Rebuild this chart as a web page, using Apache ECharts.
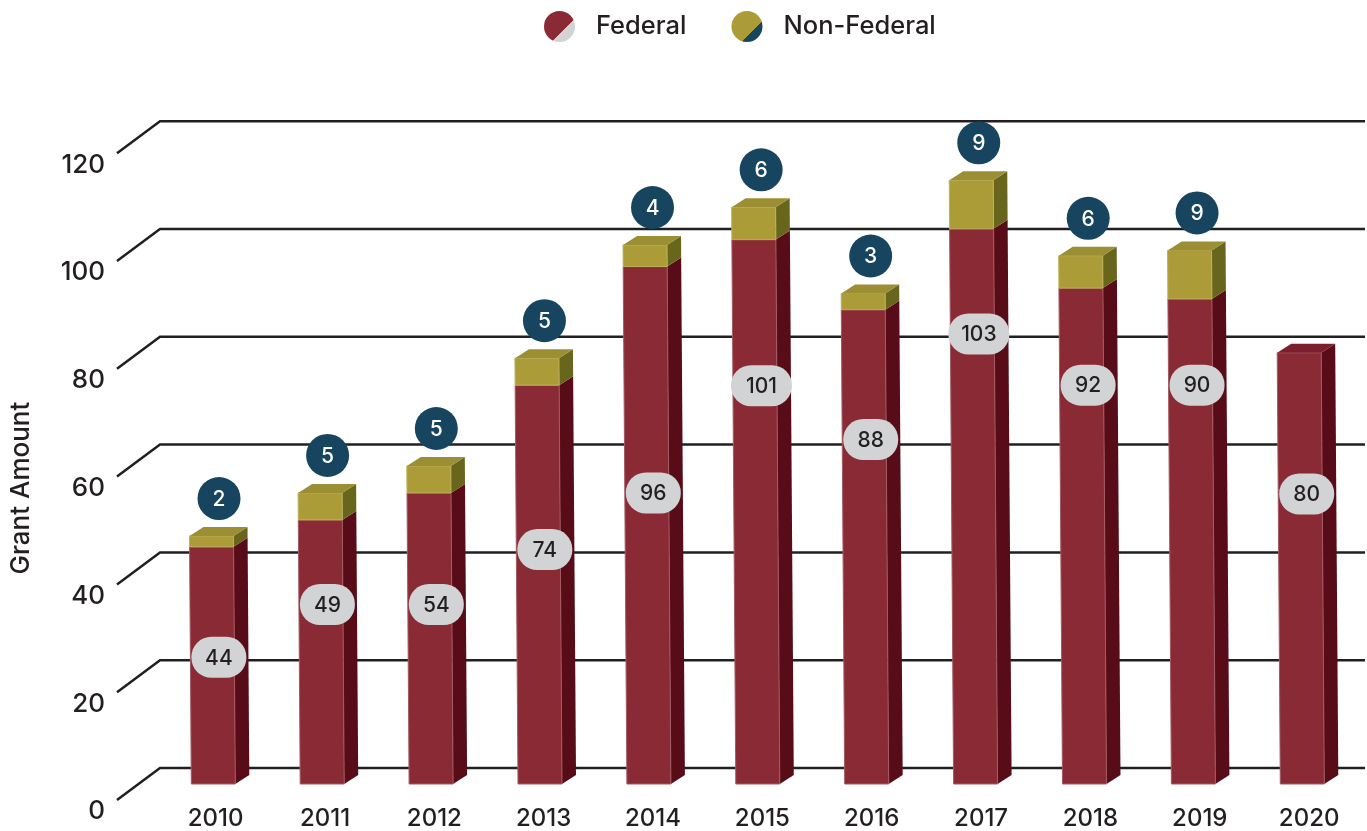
<!DOCTYPE html>
<html>
<head>
<meta charset="utf-8">
<style>
  html, body { margin: 0; padding: 0; background: #fff; }
  #chart { width: 1367px; height: 831px; }
</style>
<script src="https://cdn.jsdelivr.net/npm/echarts@6/dist/echarts.min.js"></script>
</head>
<body>
<div id="chart"></div>
<script>
const years = ['2010', '2011', '2012', '2013', '2014', '2015', '2016', '2017', '2018', '2019', '2020']
const federal = [44, 49, 54, 74, 96, 101, 88, 103, 92, 90, 80]
const nonFederal = [2, 5, 5, 5, 4, 6, 3, 9, 6, 9, 0]
const ticks = [0, 20, 40, 60, 80, 100, 120]

// where each grey pill sits on the bar, in axis units (placed by hand in the original)
const pillLevels = [23.5, 33.3, 33.3, 43.5, 54, 73.9, 63.9, 83.5, 74, 74, 53.8]

const font = 'Inter'
const ink = '#231f20'
const barWidth = 44
const depthX = 14
const depthY = 9
// the bars in the original lean left slightly as they rise
const lean = 0.0072

const chart = echarts.init(document.getElementById('chart'))

function twoTone(a, b, stop) {
  return new echarts.graphic.LinearGradient(0, 0, 1, 1, [
    { offset: 0, color: a },
    { offset: stop, color: a },
    { offset: stop, color: b },
    { offset: 1, color: b },
  ])
}

// left edge of bar i at pixel height y
function leftAt(api, i, y) {
  const base = api.coord([i, 0])
  return base[0] - barWidth / 2 - lean * (base[1] - y)
}

// front + side + top faces of one box between two pixel heights
function box(api, i, top, bottom, colors, withTop) {
  const lt = leftAt(api, i, top)
  const lb = leftAt(api, i, bottom)
  const rt = lt + barWidth
  const rb = lb + barWidth
  const parts = [
    {
      type: 'polygon',
      shape: { points: [[rt, top], [rt + depthX, top - depthY], [rb + depthX, bottom - depthY], [rb, bottom]] },
      style: { fill: colors.side },
    },
    {
      type: 'polygon',
      shape: { points: [[lt, top], [rt, top], [rb, bottom], [lb, bottom]] },
      style: { fill: colors.front, stroke: colors.edge, lineWidth: 1 },
    },
  ]
  if (withTop) {
    parts.push({
      type: 'polygon',
      shape: { points: [[lt, top], [lt + depthX, top - depthY], [rt + depthX, top - depthY], [rt, top]] },
      style: { fill: colors.top },
    })
  }
  return parts
}

function renderGridLine(params, api) {
  const y = api.coord([0, api.value(1)])[1]
  return {
    type: 'polyline',
    shape: { points: [[117, y + 16], [160, y - 16], [1365, y - 16]] },
    style: { fill: null, stroke: ink, lineWidth: 2.5 },
  }
}

function renderFederal(params, api) {
  const i = api.value(0)
  const top = api.coord([i, api.value(1)])[1]
  const bottom = api.coord([i, 0])[1]
  const pillY = api.coord([i, pillLevels[i]])[1]
  const cx = leftAt(api, i, pillY) + 28.5
  const label = String(api.value(1))
  const pillWidth = label.length > 2 ? 61 : 55
  const colors = { front: '#8a2a35', side: '#570c18', top: '#7c1f2c', edge: '#a25a63' }
  const children = box(api, i, top, bottom, colors, nonFederal[i] === 0)
  children.push({
    type: 'rect',
    shape: { x: cx - pillWidth / 2, y: pillY - 20.5, width: pillWidth, height: 41, r: 20 },
    style: { fill: '#d1d3d4' },
  })
  children.push({
    type: 'text',
    style: { text: label, x: cx, y: pillY + 1, align: 'center', verticalAlign: 'middle', fill: ink, font: '500 21px ' + font },
  })
  return { type: 'group', children }
}

function renderNonFederal(params, api) {
  const i = api.value(0)
  const amount = api.value(1)
  if (!amount) return null
  const bottom = api.coord([i, federal[i]])[1]
  const top = api.coord([i, federal[i] + amount])[1]
  const cx = leftAt(api, i, top) + 29.5
  const colors = { front: '#ab9c38', side: '#68651c', top: '#9c8e33', edge: '#bdb05c' }
  const children = box(api, i, top, bottom, colors, true)
  children.push({
    type: 'circle',
    shape: { cx, cy: top - 37.5, r: 21.5 },
    style: { fill: '#17455f' },
  })
  children.push({
    type: 'text',
    style: { text: String(amount), x: cx, y: top - 36.5, align: 'center', verticalAlign: 'middle', fill: '#fff', font: '500 21px ' + font },
  })
  return { type: 'group', children }
}

chart.setOption({
  animation: false,
  legend: {
    data: ['Federal', 'Non-Federal'],
    left: 539,
    top: 6,
    icon: 'circle',
    itemWidth: 31,
    itemHeight: 31,
    itemGap: 45,
    selectedMode: false,
    textStyle: { fontFamily: font, fontSize: 25.5, fontWeight: 500, color: ink, padding: [2, 0, 0, 16] },
  },
  grid: [
    // bars and grid lines
    { left: 158.85, width: 1197.9, top: 137.2, height: 646.8 },
    // tick labels sit lower and a little wider than the bars
    { left: 159.6, width: 1204.2, top: 164.7, height: 646.8 },
  ],
  xAxis: [
    { type: 'category', gridIndex: 0, data: years, show: false },
    {
      type: 'category',
      gridIndex: 1,
      data: years,
      axisLine: { show: false },
      axisTick: { show: false },
      axisLabel: { fontFamily: font, fontSize: 24, fontWeight: 500, color: ink, margin: -4.5, interval: 0 },
    },
  ],
  yAxis: [
    { type: 'value', gridIndex: 0, min: 0, max: 120, interval: 20, show: false },
    {
      type: 'value',
      gridIndex: 1,
      min: 0,
      max: 120,
      interval: 20,
      name: 'Grant Amount',
      nameLocation: 'middle',
      nameRotate: 90,
      nameGap: 127,
      nameTextStyle: { fontFamily: font, fontSize: 26, fontWeight: 500, color: ink },
      axisLine: { show: false },
      axisTick: { show: false },
      splitLine: { show: false },
      axisLabel: { fontFamily: font, fontSize: 26, fontWeight: 500, color: ink, margin: 56 },
    },
  ],
  series: [
    {
      type: 'custom',
      name: 'grid',
      xAxisIndex: 0,
      yAxisIndex: 0,
      silent: true,
      z: 1,
      renderItem: renderGridLine,
      data: ticks.map((v) => [0, v]),
    },
    {
      type: 'custom',
      name: 'Federal',
      xAxisIndex: 0,
      yAxisIndex: 0,
      z: 2,
      itemStyle: { color: twoTone('#8a2a35', '#d1d3d4', 0.62) },
      renderItem: renderFederal,
      data: federal.map((v, i) => [i, v]),
    },
    {
      type: 'custom',
      name: 'Non-Federal',
      xAxisIndex: 0,
      yAxisIndex: 0,
      z: 3,
      itemStyle: { color: twoTone('#ab9c38', '#17455f', 0.66) },
      renderItem: renderNonFederal,
      data: nonFederal.map((v, i) => [i, v]),
    },
  ],
})
</script>
</body>
</html>
